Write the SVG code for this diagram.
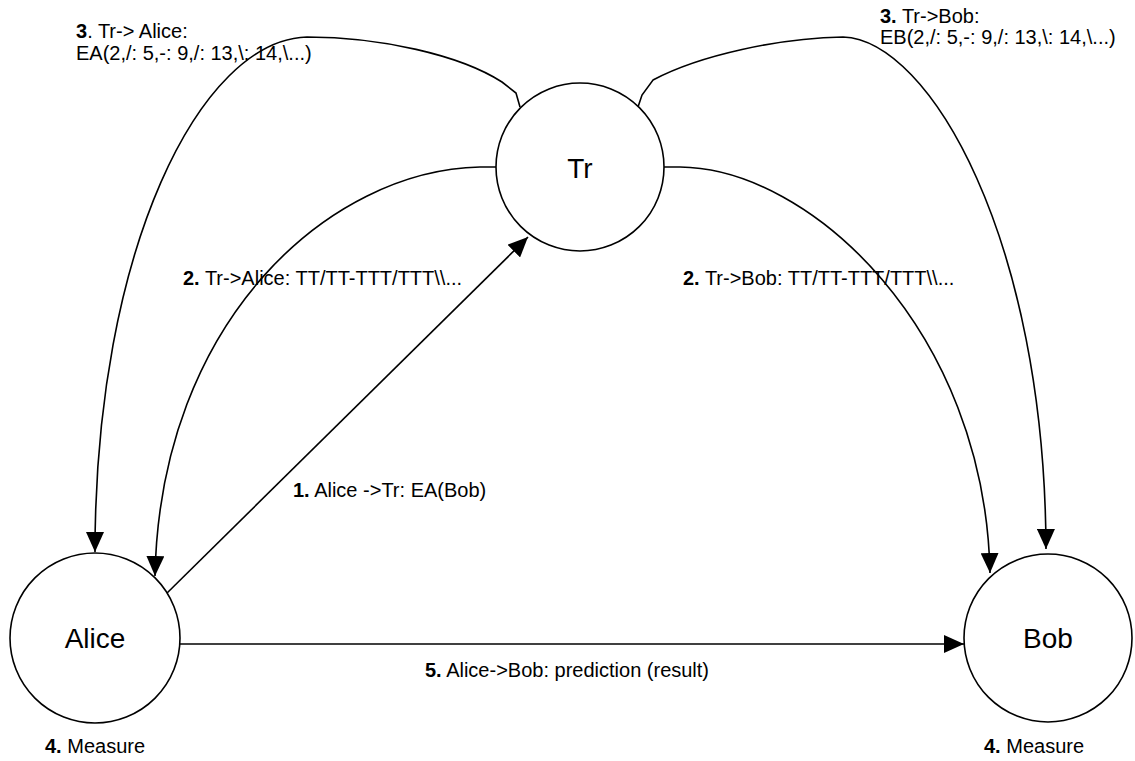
<svg xmlns="http://www.w3.org/2000/svg" width="1135" height="761" viewBox="0 0 1135 761">
<style>
.node{fill:#fff;stroke:#000;stroke-width:1.6}
.edge{fill:none;stroke:#000;stroke-width:1.6}
text{font-family:"Liberation Sans",Arial,sans-serif;fill:#000}
.lbl{font-size:20px}
.big{font-size:28px}
.b{font-weight:bold}
</style>
<defs>
<marker id="ah" markerUnits="userSpaceOnUse" markerWidth="20" markerHeight="18" refX="20" refY="9" orient="auto">
<path d="M0,0 L20,9 L0,18 z" fill="#000"/>
</marker>
</defs>
<rect width="1135" height="761" fill="#fff"/>
<g id="connectors">
<path class="edge" d="M520,107 L516,93 L502,82 C460,55 380,37 307,37 C200,40 95,250 95,552" marker-end="url(#ah)"/>
<path class="edge" d="M638,107 L642,95 L653,80 C700,55 780,38 843,37 C930,40 1045,240 1046,549" marker-end="url(#ah)"/>
<path class="edge" d="M496,167 L480,167 C330,170 160,320 155,576" marker-end="url(#ah)"/>
<path class="edge" d="M664,167 L680,167 C810,168 985,330 990,573" marker-end="url(#ah)"/>
<path class="edge" d="M163,597 L528,237" marker-end="url(#ah)"/>
<path class="edge" d="M180,644 L964,644" marker-end="url(#ah)"/>
</g>
<g id="tr">
<circle class="node" cx="580" cy="167" r="84"/>
<text class="big" x="580" y="178" text-anchor="middle">Tr</text>
</g>
<g id="alice">
<circle class="node" cx="95" cy="638" r="85"/>
<text class="big" x="95" y="648" text-anchor="middle">Alice</text>
</g>
<g id="bob">
<circle class="node" cx="1048" cy="638" r="84"/>
<text class="big" x="1048" y="648" text-anchor="middle">Bob</text>
</g>
<g id="labels">
<text class="lbl" x="76" y="38"><tspan class="b">3</tspan>. Tr-&gt; Alice:</text>
<text class="lbl" x="76" y="60">EA(2,/: 5,-: 9,/: 13,\: 14,\...)</text>
<text class="lbl" x="880" y="23"><tspan class="b">3.</tspan> Tr-&gt;Bob:</text>
<text class="lbl" x="880" y="44">EB(2,/: 5,-: 9,/: 13,\: 14,\...)</text>
<text class="lbl" x="183" y="285"><tspan class="b">2.</tspan> Tr-&gt;Alice: TT/TT-TTT/TTT\\...</text>
<text class="lbl" x="683" y="285"><tspan class="b">2.</tspan> Tr-&gt;Bob: TT/TT-TTT/TTT\\...</text>
<text class="lbl" x="293" y="497"><tspan class="b">1.</tspan> Alice -&gt;Tr: EA(Bob)</text>
<text class="lbl" x="425" y="677"><tspan class="b">5.</tspan> Alice-&gt;Bob: prediction (result)</text>
<text class="lbl" x="45" y="753"><tspan class="b">4.</tspan> Measure</text>
<text class="lbl" x="984" y="753"><tspan class="b">4.</tspan> Measure</text>
</g>
</svg>
